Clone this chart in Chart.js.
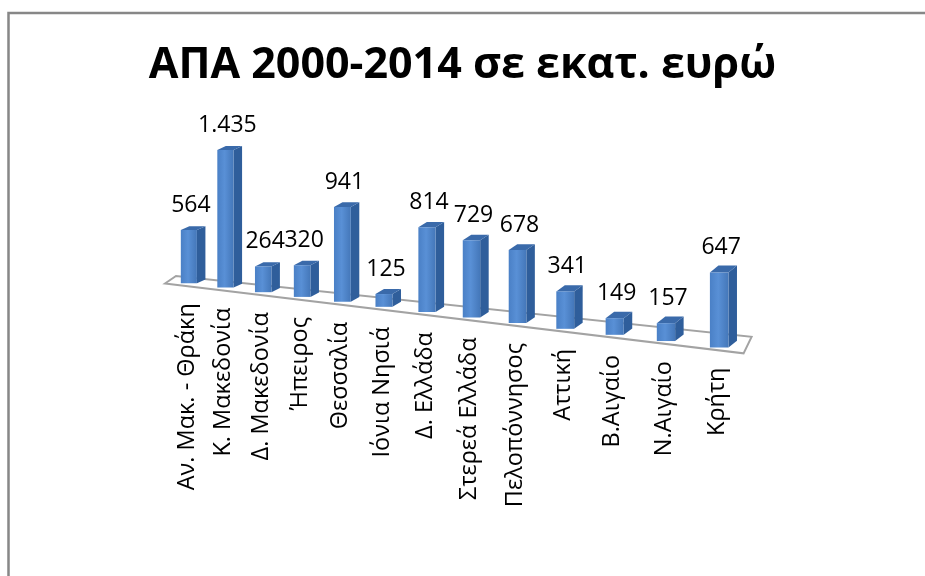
<!DOCTYPE html>
<html>
<head>
<meta charset="utf-8">
<script src="https://cdn.jsdelivr.net/npm/chart.js@4/dist/chart.umd.min.js"></script>
<style>
  html, body { margin: 0; padding: 0; background: #fff; overflow: hidden; }
  canvas { display: block; }
</style>
</head>
<body>
<canvas id="chart" width="925" height="576"></canvas>
<script>
const regions = ['Αν. Μακ. - Θράκη', 'Κ. Μακεδονία', 'Δ. Μακεδονία', 'Ήπειρος', 'Θεσσαλία', 'Ιόνια Νησιά',
  'Δ. Ελλάδα', 'Στερεά Ελλάδα', 'Πελοπόννησος', 'Αττική', 'Β.Αιγαίο', 'Ν.Αιγαίο', 'Κρήτη']
const gdp = [564, 1435, 264, 320, 941, 125, 814, 729, 678, 341, 149, 157, 647]
const yMax = 1600

// thousands with a dot, like the greek excel labels
const fmt = v => String(v).replace(/\B(?=(\d{3})+(?!\d))/g, '.')

// the flat chart (t = 0..1 across, h = 0..1 up) seen in perspective
const view = { A: 171, B: 427, C: 281, G: -0.199, H: 150 }
function project(t, h) {
  const w = 1 + view.G * t
  return { x: (view.A + view.B * t) / w, y: (view.C - view.H * h) / w, w: w }
}

const perspective3d = {
  id: 'perspective3d',
  beforeDraw(chart) {
    const ctx = chart.ctx
    ctx.save()
    ctx.strokeStyle = '#878787'
    ctx.lineWidth = 2.5
    ctx.strokeRect(8.5, 13, 1000, 1000)
    ctx.restore()
  },
  beforeDatasetsDraw(chart) {
    const ctx = chart.ctx
    const xs = chart.scales.x, ys = chart.scales.y
    const tOf = px => (px - xs.left) / (xs.right - xs.left)
    const hOf = py => (ys.bottom - py) / (ys.bottom - ys.top)

    // floor
    const edge = (t, back) => {
      const p = project(t, 0)
      return back ? [p.x + 5, p.y - (5 + 9 * t)] : [p.x - 6 + 3 * t, p.y + 2.5]
    }
    const floor = [edge(0, false), edge(1, false), edge(1, true), edge(0, true)]
    ctx.save()
    ctx.beginPath()
    floor.forEach((p, i) => i ? ctx.lineTo(p[0], p[1]) : ctx.moveTo(p[0], p[1]))
    ctx.closePath()
    ctx.fillStyle = '#ffffff'
    ctx.fill()
    ctx.strokeStyle = '#a3a3a3'
    ctx.lineWidth = 2
    ctx.stroke()

    const meta = chart.getDatasetMeta(0)
    meta.data.forEach(bar => {
      const t = tOf(bar.x), h = hOf(bar.y)
      const b = project(t, 0), top = project(t, h)
      const fw = 16 / Math.pow(b.w, 0.7)
      const x0 = b.x - fw / 2, x1 = b.x + fw / 2
      const dx = 8.5, dy = -(3.5 + 3.5 * t)

      const quad = (pts, fill) => {
        ctx.beginPath()
        pts.forEach((p, i) => i ? ctx.lineTo(p[0], p[1]) : ctx.moveTo(p[0], p[1]))
        ctx.closePath()
        ctx.fillStyle = fill
        ctx.fill()
      }
      quad([[x1, b.y], [x1, top.y], [x1 + dx, top.y + dy], [x1 + dx, b.y + dy]], '#2f5e9b')
      quad([[x0, top.y], [x1, top.y], [x1 + dx, top.y + dy], [x0 + dx, top.y + dy]], '#3a6aaa')
      const g = ctx.createLinearGradient(x0, 0, x1, 0)
      g.addColorStop(0, '#4a80c6')
      g.addColorStop(0.45, '#5990d6')
      g.addColorStop(1, '#4477b9')
      quad([[x0, b.y], [x1, b.y], [x1, top.y], [x0, top.y]], g)
    })
    ctx.restore()
    return false
  },
  afterDraw(chart) {
    const ctx = chart.ctx
    const xs = chart.scales.x, ys = chart.scales.y
    const tOf = px => (px - xs.left) / (xs.right - xs.left)
    const hOf = py => (ys.bottom - py) / (ys.bottom - ys.top)
    const meta = chart.getDatasetMeta(0)
    ctx.save()
    ctx.fillStyle = '#000'
    meta.data.forEach((bar, i) => {
      const t = tOf(bar.x), h = hOf(bar.y)
      const b = project(t, 0), top = project(t, h)
      // value on top
      ctx.font = '23px "Open Sans"'
      ctx.textAlign = 'center'
      ctx.textBaseline = 'alphabetic'
      ctx.fillText(fmt(chart.data.datasets[0].data[i]), b.x + 2, top.y - 18)
      // category under the floor, reading upwards
      ctx.save()
      ctx.translate(b.x - 2, b.y + 20)
      ctx.rotate(-Math.PI / 2)
      ctx.font = '23.5px "Open Sans"'
      ctx.textAlign = 'right'
      ctx.textBaseline = 'middle'
      ctx.fillText(xs.getLabelForValue(i), 0, 0)
      ctx.restore()
    })
    ctx.restore()
  }
}

new Chart(document.getElementById('chart'), {
  type: 'bar',
  data: {
    labels: regions,
    datasets: [{
      label: 'ΑΠΑ',
      data: gdp,
      backgroundColor: '#4a7ebb'
    }]
  },
  options: {
    responsive: false,
    animation: false,
    layout: { padding: 20 },
    scales: {
      x: { display: false, grid: { display: false } },
      y: { display: false, min: 0, max: yMax, grid: { display: false } }
    },
    plugins: {
      legend: { display: false },
      tooltip: { enabled: false },
      title: {
        display: true,
        text: 'ΑΠΑ 2000-2014 σε εκατ. ευρώ',
        color: '#000',
        font: { family: 'Open Sans', size: 43, weight: 'bold' },
        padding: { top: 20, bottom: 10 }
      }
    }
  },
  plugins: [perspective3d]
})
</script>
</body>
</html>
